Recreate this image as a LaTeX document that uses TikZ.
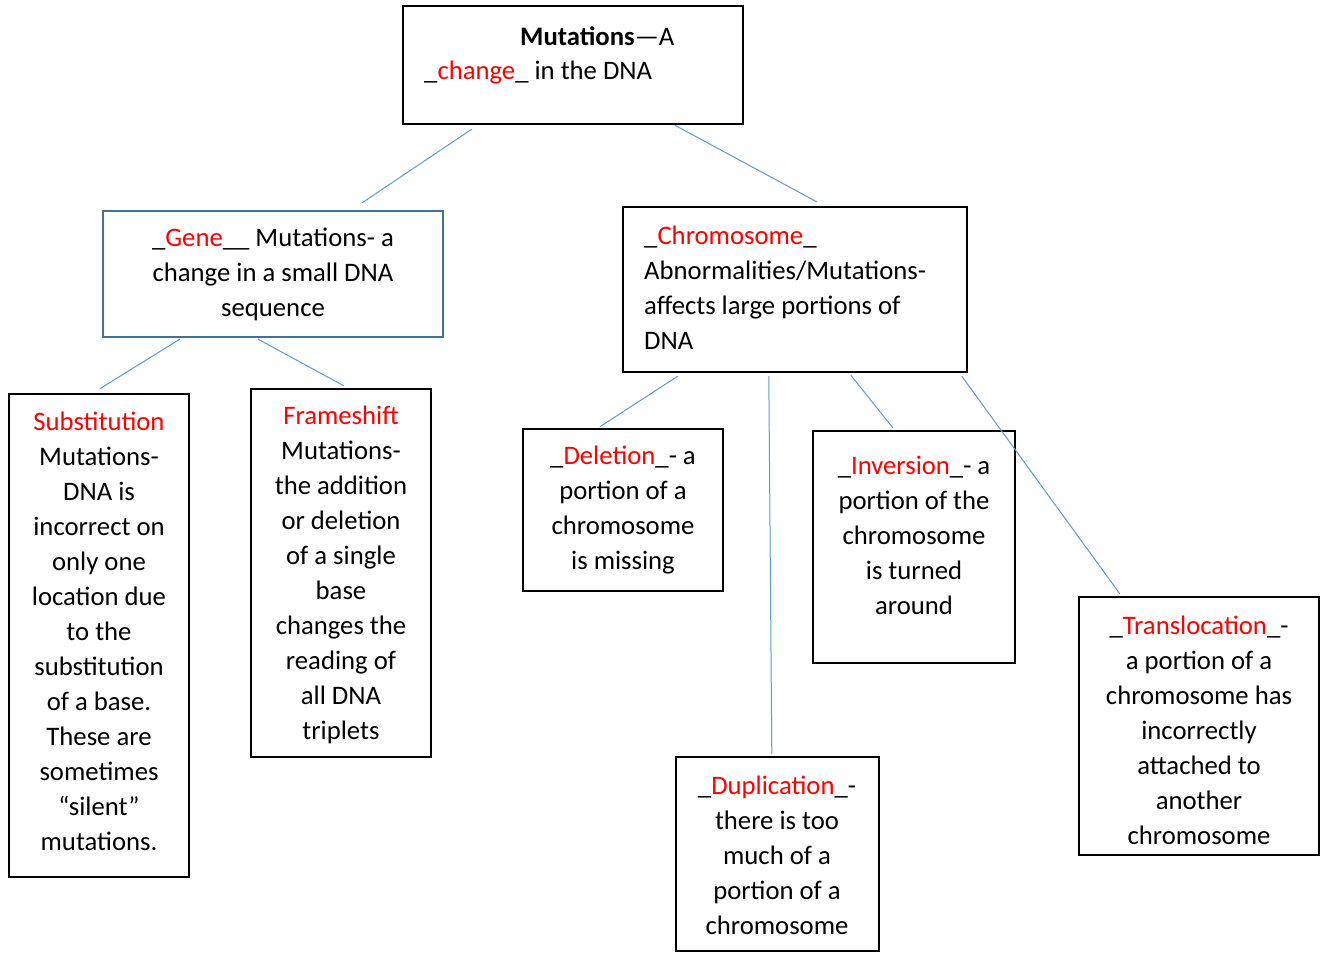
\documentclass[tikz,border=0pt]{standalone}
\usepackage{fontspec}
\setmainfont{Carlito}
\definecolor{conn}{HTML}{5B9BD5}
\definecolor{geneblue}{HTML}{41719C}
\definecolor{hl}{HTML}{FF0000}
\newcommand{\hi}[1]{\textcolor{hl}{#1}}
\begin{document}
\begin{tikzpicture}[x=1pt,y=-1pt,
  box/.style={draw=black,line width=2.4pt,inner sep=0pt,fill=none},
  bluebox/.style={draw=geneblue,line width=2.2pt,inner sep=0pt},
  txt/.style={inner sep=0pt,align=center,font=\fontsize{26.7}{35}\selectfont},
  ltxt/.style={inner sep=0pt,align=left,font=\fontsize{26.7}{35}\selectfont},
  link/.style={draw=conn,line width=1pt}]
\useasboundingbox (0,0) rectangle (1324,953);
\fill[white] (0,0) rectangle (1324,953);

% boxes
\node[box,minimum width=340pt,minimum height=118pt] (top) at (573,65) {};
\node[bluebox,minimum width=340pt,minimum height=126pt] (gene) at (273,274) {};
\node[box,minimum width=344pt,minimum height=165pt] (chrom) at (795,289.5) {};
\node[box,minimum width=180pt,minimum height=483pt] (sub) at (99,635.5) {};
\node[box,minimum width=180pt,minimum height=368pt] (frame) at (341,573) {};
\node[box,minimum width=200pt,minimum height=162pt] (del) at (623,510) {};
\node[box,minimum width=202pt,minimum height=232pt] (inv) at (914,547) {};
\node[box,minimum width=203pt,minimum height=194pt] (dup) at (777.5,854) {};
\node[box,minimum width=240pt,minimum height=258pt] (trans) at (1199,726) {};

% texts
\node[ltxt,anchor=base west] (toptxt1) at (520,45) {\textbf{Mutations}—A};
\node[ltxt,anchor=base west] (toptxt2) at (424,79.5) {\_\hi{change}\_ in the DNA};
\node[txt] (genetxt) at (273,274.5) {\_\hi{Gene}\_\_ Mutations- a\\change in a small DNA\\sequence};
\node[ltxt,anchor=west] (chromtxt) at (644,288) {\_\hi{Chromosome}\_\\Abnormalities/Mutations-\\affects large portions of\\DNA};
\node[txt] (subtxt) at (99,631.5) {\hi{Substitution}\\Mutations-\\DNA is\\incorrect on\\only one\\location due\\to the\\substitution\\of a base.\\These are\\sometimes\\“silent”\\mutations.};
\node[txt] (frametxt) at (341,575) {\hi{Frameshift}\\Mutations-\\the addition\\or deletion\\of a single\\base\\changes the\\reading of\\all DNA\\triplets};
\node[txt] (deltxt) at (623,510) {\_\hi{Deletion}\_- a\\portion of a\\chromosome\\is missing};
\node[txt] (invtxt) at (914,535.5) {\_\hi{Inversion}\_- a\\portion of the\\chromosome\\is turned\\around};
\node[txt] (duptxt) at (777,855.5) {\_\hi{Duplication}\_-\\there is too\\much of a\\portion of a\\chromosome};
\node[txt] (transtxt) at (1199,730.5) {\_\hi{Translocation}\_-\\a portion of a\\chromosome has\\incorrectly\\attached to\\another\\chromosome};

% connectors
\draw[link] ([xshift=70pt,yshift=-4pt]top.south west) -- ([xshift=260pt,yshift=7pt]gene.north west);
\draw[link] ([xshift=273pt]top.south west) -- ([xshift=195pt,yshift=4pt]chrom.north west);
\draw[link] ([xshift=78pt,yshift=-1pt]gene.south west) -- ([xshift=92pt,yshift=4pt]sub.north west);
\draw[link] ([xshift=156pt,yshift=-1pt]gene.south west) -- ([xshift=94pt,yshift=2pt]frame.north west);
\draw[link] ([xshift=56pt,yshift=-3pt]chrom.south west) -- ([xshift=78pt,yshift=1pt]del.north west);
\draw[link] ([xshift=147pt,yshift=-3pt]chrom.south west) -- ([xshift=97pt,yshift=2pt]dup.north west);
\draw[link] ([xshift=229pt,yshift=-2pt]chrom.south west) -- ([xshift=81pt,yshift=2pt]inv.north west);
\draw[link] ([xshift=340pt,yshift=-3pt]chrom.south west) -- ([xshift=42pt,yshift=2pt]trans.north west);
\end{tikzpicture}
\end{document}
